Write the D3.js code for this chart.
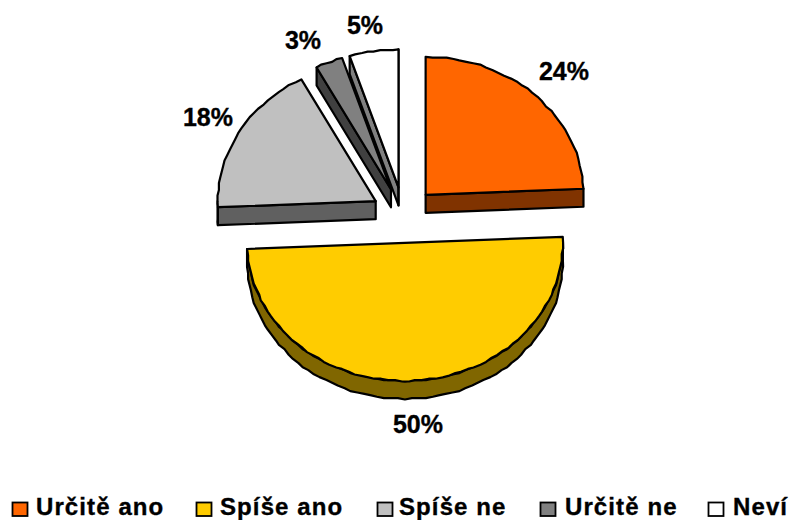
<!DOCTYPE html>
<html><head><meta charset="utf-8">
<script src="https://cdn.jsdelivr.net/npm/d3@7"></script>
<style>html,body{margin:0;padding:0;background:#fff}svg{display:block}
text{font-family:"Liberation Sans",Arial,sans-serif;font-weight:700;fill:#000;stroke:#000;stroke-width:.35px}</style>
</head><body><div id="c"></div>
<script>
const categories=["Určitě ano","Spíše ano","Spíše ne","Určitě ne","Neví"];
const values=[24.3,50,17.9,2.8,5];
const labels=["24%","50%","18%","3%","5%"];
const faceColors=["#ff6600","#ffcc00","#c0c0c0","#808080","#ffffff"];
const wallColors=["#803300","#806600","#606060","#404040","#808080"];
const legendKeyX=[12,196,377,540,708];
const legendTextX=[36,220,399,565,733];
const labelPos=[[564,80],[418,433],[208,126],[303,49],[365,34]];

const W=789,H=520,cx=403.5,cy=215,rx=158,ry=138,explode=32,depth=18,snap=1.4;
const svg=d3.select("#c").append("svg").attr("width",W).attr("height",H);
const pie=d3.pie().sort(null).value(d=>d)(values);
const k=ry/rx;
const line=d3.line();
const P=(a,r)=>[r*Math.sin(a),-k*r*Math.cos(a)];
const sn=v=>Math.round(v/snap)*snap;
function rim(a0,a1){
  const n=Math.max(2,Math.ceil((a1-a0)/(2.5*Math.PI/180)));
  const t=d3.scaleLinear().domain([0,n]).range([a0,a1]);
  return d3.range(n+1).map(i=>{
    const p=P(t(i),rx);
    return (i===0||i===n)?p:[sn(p[0]),sn(p[1])];
  });
}
const order=[4,3,2,0,1];
order.forEach(i=>{
  const d=pie[i],mid=(d.startAngle+d.endAngle)/2;
  const off=P(mid,explode);
  const g=svg.append("g").attr("transform",`translate(${cx+off[0]},${cy+off[1]})`);
  const style=s=>s.attr("stroke","#000").attr("stroke-width",2.2).attr("stroke-linejoin","round");
  const A=d.startAngle,B=d.endAngle;
  [A,B].forEach(a=>{
    const p=P(a,rx);
    const visible=(a===B&&Math.sin(a)>0)||(a===A&&Math.sin(a)<0);
    if(visible)style(g.append("path").attr("fill",wallColors[i])
      .attr("d",line([[0,0],p,[p[0],p[1]+depth],[0,depth]])+"Z"));
  });
  const r0=Math.max(A,Math.PI/2),r1=Math.min(B,3*Math.PI/2);
  if(r1>r0){
    const top=rim(r0,r1);
    const bot=top.map(p=>[p[0],p[1]+depth]).reverse();
    style(g.append("path").attr("d",line(top.concat(bot))+"Z").attr("fill",wallColors[i]));
  }
  style(g.append("path").attr("d",line([[0,0]].concat(rim(A,B)))+"Z").attr("fill",faceColors[i]));
});
labels.forEach((t,i)=>svg.append("text").attr("x",labelPos[i][0]).attr("y",labelPos[i][1])
  .attr("text-anchor","middle").attr("font-size",25).text(t));
categories.forEach((t,i)=>{
  svg.append("rect").attr("x",legendKeyX[i]+.5).attr("y",502.5).attr("width",15).attr("height",13.5)
    .attr("fill",faceColors[i]).attr("stroke","#000").attr("stroke-width",1.8);
  svg.append("text").attr("x",legendTextX[i]).attr("y",515).attr("font-size",24)
    .attr("letter-spacing",1.1).text(t);
});
</script></body></html>
